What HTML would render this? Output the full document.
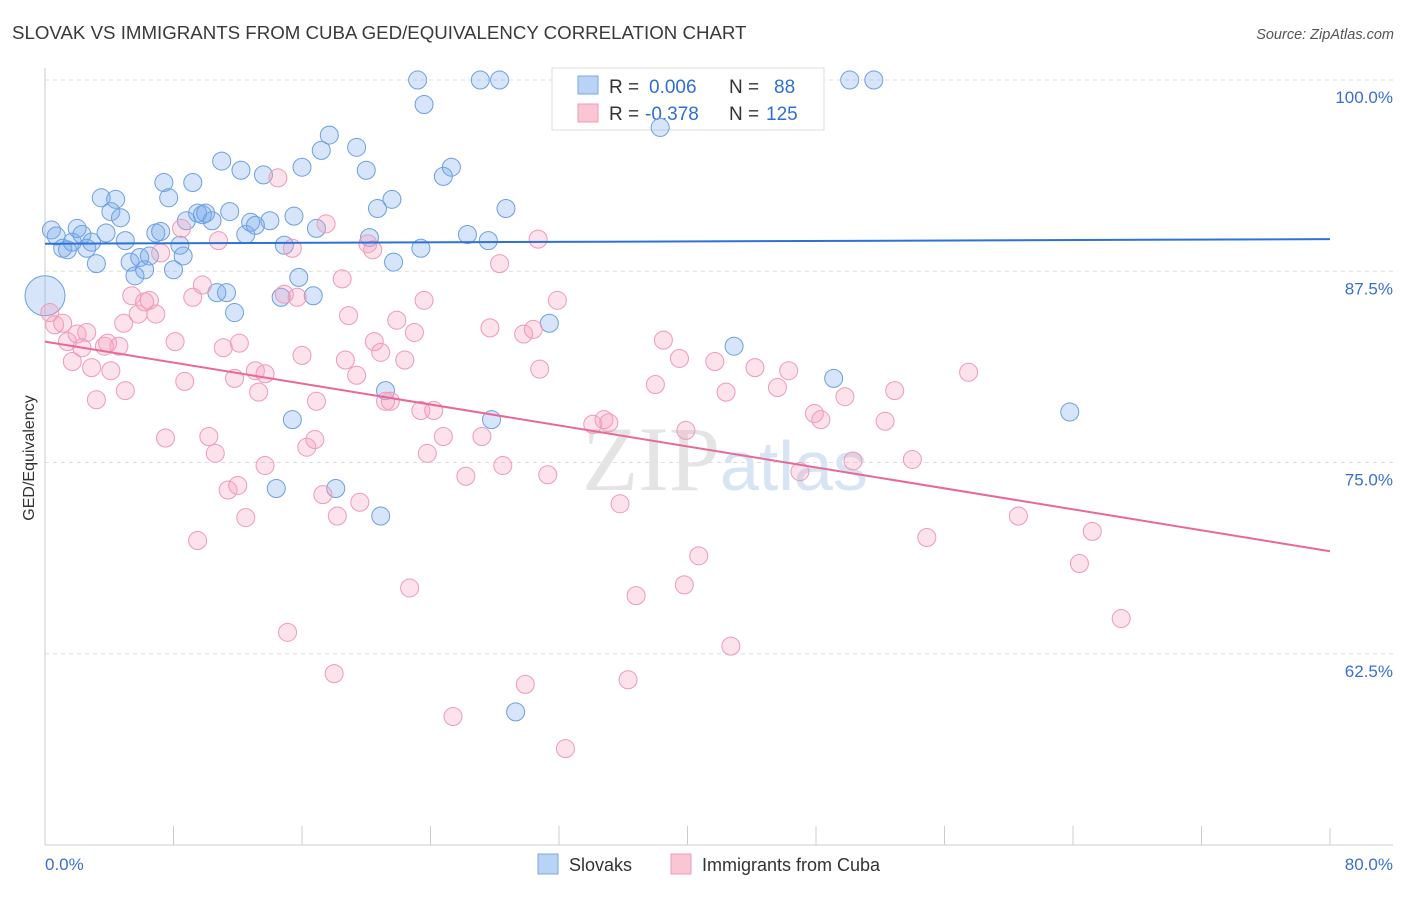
<!DOCTYPE html>
<html><head><meta charset="utf-8"><style>
body{margin:0;background:#fff;font-family:"Liberation Sans",sans-serif}
</style></head><body>
<svg id="c" width="1406" height="892" xmlns="http://www.w3.org/2000/svg">
<text x="12" y="39" font-size="18.7" fill="#3a3a3a">SLOVAK VS IMMIGRANTS FROM CUBA GED/EQUIVALENCY CORRELATION CHART</text>
<text x="1394" y="39" font-size="14.5" fill="#555" text-anchor="end" font-style="italic">Source: ZipAtlas.com</text>
<text transform="translate(34,458) rotate(-90)" font-size="16" fill="#333" text-anchor="middle">GED/Equivalency</text>
<g id="grid"></g><g id="ticks"></g>
<text x="720" y="490" font-size="92" fill="#e4e4e4" text-anchor="end" font-family="Liberation Serif,serif">ZIP</text>
<text x="720" y="490" font-size="70" fill="#d6e4f4">atlas</text>
<g>
<rect x="552" y="68" width="272" height="62" fill="#fff" stroke="#ddd"/>
<rect x="578" y="76" width="20" height="18" fill="#b9d3f5" stroke="#7aa7e0"/>
<rect x="578" y="104" width="20" height="18" fill="#fbc6d4" stroke="#f19ab3"/>
<text x="609" y="93" font-size="19" fill="#333">R = <tspan fill="#2e6fd6" x="649">0.006</tspan><tspan x="729">N = </tspan><tspan fill="#2e6fd6" x="774">88</tspan></text>
<text x="609" y="120" font-size="19" fill="#333">R = <tspan fill="#2e6fd6" x="645">-0.378</tspan><tspan x="729">N = </tspan><tspan fill="#2e6fd6" x="766">125</tspan></text>
</g>
<g id="pts"></g><g id="lines"></g>
<g>
<rect x="538" y="854" width="20" height="20" fill="#b9d3f5" stroke="#7aa7e0"/>
<text x="569" y="871" font-size="18" fill="#333">Slovaks</text>
<rect x="671" y="854" width="20" height="20" fill="#fbc6d4" stroke="#f19ab3"/>
<text x="702" y="871" font-size="18" fill="#333">Immigrants from Cuba</text>
</g>
<text x="45" y="870" font-size="17" fill="#3a6fd0">0.0%</text>
<text x="1393" y="870" font-size="17" fill="#3a6fd0" text-anchor="end">80.0%</text>
</svg>
<script>
const yTicks=[100,87.5,75,62.5];
const yTickLabels=["100.0%","87.5%","75.0%","62.5%"];
const xTicks=[0,8,16,24,32,40,48,56,64,72,80];
const slovakX=[0.4,0.7,1.1,1.4,1.7,2.0,2.3,2.6,2.9,3.2,3.5,3.8,4.1,4.4,4.7,5.0,5.3,5.6,5.9,6.2,6.5,6.9,7.2,7.4,7.7,8.0,8.4,8.6,8.8,9.2,9.5,9.8,10.0,10.4,10.7,11.0,11.3,11.5,11.8,12.2,12.5,12.8,13.1,13.6,14.0,14.4,14.7,14.9,15.4,15.5,15.8,16.0,16.7,16.9,17.2,17.7,18.1,19.4,20.0,20.2,20.7,20.9,21.2,21.6,21.7,23.2,23.4,23.6,24.8,25.3,26.3,27.1,27.6,27.8,28.3,28.7,29.3,31.4,38.3,42.9,49.1,50.1,51.6,63.8];
const slovakY=[90.2,89.8,89.0,88.9,89.4,90.3,89.9,89.0,89.4,88.0,92.3,90.0,91.4,92.2,91.0,89.5,88.1,87.2,88.4,87.6,88.5,90.0,90.1,93.3,92.3,87.6,89.2,88.5,90.8,93.3,91.3,91.2,91.3,90.8,86.1,94.7,86.1,91.4,84.8,94.1,89.9,90.7,90.5,93.8,90.8,73.3,85.8,89.2,77.8,91.1,87.1,94.3,85.9,90.3,95.4,96.4,73.3,95.6,94.1,89.7,91.6,71.5,79.7,92.2,88.1,100,89.0,98.4,93.7,94.3,89.9,100,89.5,77.8,100,91.6,58.7,84.1,96.9,82.6,80.5,100,100,78.3];
const cubaX=[0.3,0.6,1.1,1.4,1.7,2.0,2.3,2.6,2.9,3.2,3.7,3.9,4.1,4.6,4.9,5.0,5.4,5.8,6.2,6.5,6.9,7.2,7.5,8.1,8.5,8.7,9.2,9.5,9.8,10.2,10.6,10.8,11.1,11.4,11.8,12.0,12.1,12.5,13.1,13.3,13.7,13.7,14.5,14.9,15.1,15.4,15.7,16.0,16.3,16.8,16.9,17.3,17.5,18.0,18.2,18.5,18.7,18.9,19.4,19.6,20.1,20.4,20.5,20.9,21.2,21.5,21.9,22.4,22.7,23.0,23.6,23.8,23.4,24.2,24.8,25.4,26.2,27.2,27.7,28.3,28.5,29.9,29.8,30.4,30.8,30.7,31.3,31.9,32.4,34.1,34.8,35.1,35.8,36.3,36.8,38.0,38.5,39.5,39.8,39.9,40.7,41.7,42.4,42.7,44.2,45.6,46.3,47.0,47.9,48.3,49.8,50.3,52.3,52.9,54.0,54.9,57.5,60.6,64.4,65.2,67.0];
const cubaY=[84.8,84.0,84.1,82.9,81.6,83.4,82.5,83.5,81.2,79.1,82.6,82.8,81.0,82.6,84.1,79.7,85.9,84.7,85.5,85.6,84.7,88.7,76.6,82.9,90.3,80.3,85.8,69.9,86.6,76.7,75.6,89.5,82.5,73.2,80.5,73.5,82.8,71.4,81.0,79.6,80.8,74.8,93.6,86.0,63.9,89.0,85.8,82.0,76.0,76.5,79.0,72.9,90.6,61.2,71.5,87.0,81.7,84.6,80.7,72.4,89.3,88.9,82.9,82.2,79.0,79.0,84.3,81.7,66.8,83.5,85.6,75.6,78.4,78.4,76.7,58.4,74.1,76.7,83.8,88.0,74.8,60.5,83.4,83.7,81.1,89.6,74.2,85.6,56.3,77.5,77.8,77.6,72.3,60.8,66.3,80.1,83.0,81.8,67.0,77.1,68.9,81.6,79.6,63.0,81.2,79.9,81.0,74.4,78.2,77.8,79.3,75.1,77.7,79.7,75.2,70.1,80.9,71.5,68.4,70.5,64.8];
const slovakTrend=[89.3,89.6];
const cubaTrend=[82.9,69.2];
const NS="http://www.w3.org/2000/svg";
const X=v=>45+v*(1285/80), Y=v=>80+(100-v)*15.3;
function mk(t,a,p){const e=document.createElementNS(NS,t);for(const k in a)e.setAttribute(k,a[k]);document.getElementById(p).appendChild(e);return e;}
yTicks.forEach((t,i)=>{
 const l=mk('line',{x1:45,x2:1393,y1:Y(t),y2:Y(t),stroke:'#ddd','stroke-dasharray':'4,4'},'grid');
 
 
 const tx=mk('text',{x:1393,y:Y(t)+23,'font-size':17,fill:'#3a6fd0','text-anchor':'end'},'grid');
 tx.textContent=yTickLabels[i];
 
 
});
const ax=mk('line',{x1:45,x2:1393,y1:845,y2:845,stroke:'#ccc'},'ticks');


const ay=mk('line',{x1:45,x2:45,y1:68,y2:845,stroke:'#ccc'},'ticks');


xTicks.forEach(t=>{
 const l=mk('line',{x1:X(t),x2:X(t),y1:(t==0||t==80)?828:826,y2:845,stroke:'#ccc'},'ticks');
 
 
});
slovakX.forEach((x,i)=>{
 const c=mk('circle',{cx:X(x),cy:Y(slovakY[i]),r:9,fill:'rgba(120,170,235,0.3)',stroke:'#6d9fe0','stroke-width':1},'pts');
 
 
});
const big=mk('circle',{cx:X(0),cy:Y(85.9),r:20,fill:'rgba(120,170,235,0.3)',stroke:'#6d9fe0'},'pts');


cubaX.forEach((x,i)=>{
 const c=mk('circle',{cx:X(x),cy:Y(cubaY[i]),r:9,fill:'rgba(245,160,190,0.3)',stroke:'#ef9ab5','stroke-width':1},'pts');
 
 
});
const l1=mk('line',{x1:X(0),x2:X(80),y1:Y(slovakTrend[0]),y2:Y(slovakTrend[1]),stroke:'#2f72d6','stroke-width':2},'lines');


const l2=mk('line',{x1:X(0),x2:X(80),y1:Y(cubaTrend[0]),y2:Y(cubaTrend[1]),stroke:'#e8689a','stroke-width':2},'lines');


</script>
</body></html>
